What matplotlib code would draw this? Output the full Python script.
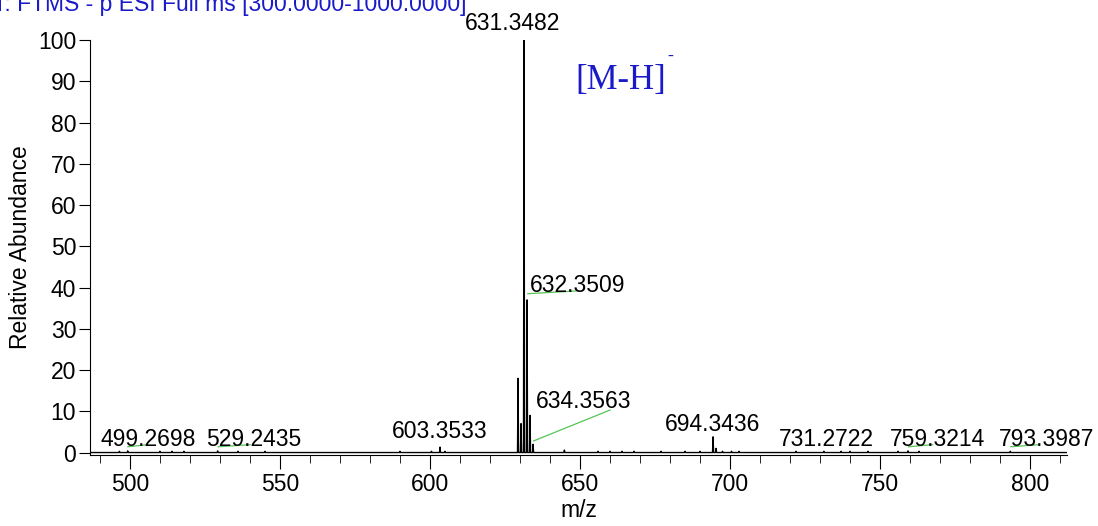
import matplotlib
matplotlib.use("Agg")
import matplotlib.pyplot as plt
from matplotlib.ticker import MultipleLocator

plt.rcParams['font.family'] = ['Liberation Sans', 'DejaVu Sans']

# peaks: m/z and relative abundance (%)
peak_mz = [499.27, 529.24, 603.35, 629.35, 630.35, 631.3482, 632.3509, 633.35,
           634.3563, 694.3436, 695.35, 731.27, 759.32, 793.40]
peak_int = [0.4, 0.4, 1.3, 18.0, 7.0, 100.0, 37.0, 9.0,
            2.0, 3.8, 1.0, 0.3, 0.4, 0.3]

# small noise bumps along the baseline
noise_mz = [496.5, 510.0, 514.0, 518.0, 536.0, 545.0, 590.0, 600.5, 605.0,
            644.8, 656.0, 660.0, 664.0, 668.0, 677.0, 685.0, 690.0, 697.5,
            700.5, 703.0, 722.0, 737.0, 740.0, 746.0, 756.0, 763.0]
noise_int = [0.3, 0.3, 0.3, 0.3, 0.3, 0.3, 0.3, 0.3, 0.3,
             0.6, 0.3, 0.3, 0.3, 0.3, 0.3, 0.3, 0.3, 0.3,
             0.3, 0.3, 0.3, 0.3, 0.3, 0.3, 0.3, 0.3]

# labels: text, label x, label baseline y, leader line (x0, y0, x1, y1) or None
label_text = ["631.3482", "632.3509", "634.3563", "603.3533", "694.3436",
              "499.2698", "529.2435", "731.2722", "759.3214", "793.3987"]
label_x = [627.6, 649.2, 651.3, 603.3, 694.1, 506.2, 541.4, 732.1, 769.3, 805.4]
label_y = [102.4, 38.9, 10.7, 3.6, 5.2, 1.7, 1.7, 1.7, 1.7, 1.7]
leader = [None,
          (632.6, 38.5, 649.5, 39.2),
          (634.5, 2.8, 660.0, 10.3),
          None, None,
          (499.3, 1.4, 506.0, 1.9),
          (529.4, 1.4, 540.0, 1.9),
          None,
          (759.5, 1.4, 767.5, 1.9),
          (793.6, 1.4, 803.0, 1.9)]

x_min, x_max = 486.7, 812.3
fs = 16.5

# build profile line: baseline with narrow triangular peaks
allpk = sorted(zip(peak_mz + noise_mz, peak_int + noise_int))
w = 0.18
xs, ys = [x_min], [0.0]
for mz, h in allpk:
    xs += [mz - w, mz, mz + w]
    ys += [0.0, h, 0.0]
xs.append(x_max)
ys.append(0.0)

fig = plt.figure(figsize=(10.98, 5.26), dpi=100)
ax = fig.add_axes([90 / 1098, 1 - 455 / 526, 977 / 1098, 415 / 526])

ax.plot(xs, ys, color='black', linewidth=1.0)

for t, lx, ly, ld in zip(label_text, label_x, label_y, leader):
    ax.text(lx, ly, t, ha='center', va='baseline', fontsize=fs, clip_on=False)
    if ld is not None:
        ax.plot([ld[0], ld[2]], [ld[1], ld[3]], color='#55c455', linewidth=0.9, clip_on=False)

# ion annotation
ax.text(648.3, 88.1, "[M-H]", family=['Liberation Serif', 'DejaVu Serif'],
        fontsize=25, color='#1a1ac8', va='baseline')
ax.text(679.0, 95.0, "-", family=['Liberation Serif', 'DejaVu Serif'],
        fontsize=13, color='#1a1ac8', va='baseline')

ax.set_xlim(x_min, x_max)
ax.set_ylim(-0.6, 100)

ax.spines['top'].set_visible(False)
ax.spines['right'].set_visible(False)

ax.xaxis.set_major_locator(MultipleLocator(50))
ax.xaxis.set_minor_locator(MultipleLocator(10))
ax.yaxis.set_major_locator(MultipleLocator(10))
ax.tick_params(axis='x', which='major', length=10, pad=3, labelsize=fs)
ax.tick_params(axis='x', which='minor', length=6)
ax.tick_params(axis='y', which='major', length=8, pad=2, labelsize=fs)

ax.set_xlabel("m/z", fontsize=fs, labelpad=2)
ax.set_ylabel("Relative Abundance", fontsize=fs, labelpad=4)

# scan header, cut off at the top like the reference
fig.text(-7 / 1098, 1 - 11 / 526, "T: FTMS - p ESI Full ms [300.0000-1000.0000]",
         fontsize=fs, color='#1a1ac8', va='baseline')

fig.savefig("out.png", dpi=100)
